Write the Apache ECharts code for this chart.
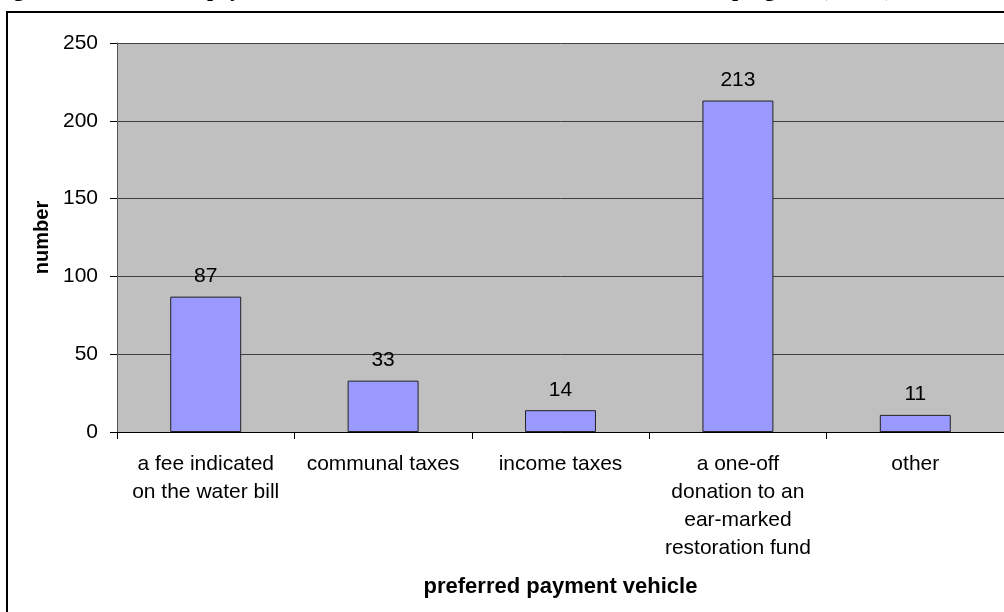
<!DOCTYPE html>
<html>
<head>
<meta charset="utf-8">
<script src="https://cdn.jsdelivr.net/npm/echarts@6/dist/echarts.min.js"></script>
<style>
  html, body { margin: 0; padding: 0; background: #fff; }
  #chart { width: 1004px; height: 612px; }
</style>
</head>
<body>
<div id="chart"></div>
<script>
// Preferred payment vehicle: number of respondents per option
const categories = [
  'a fee indicated\non the water bill',
  'communal taxes',
  'income taxes',
  'a one-off\ndonation to an\near-marked\nrestoration fund',
  'other'
];
const counts = [87, 33, 14, 213, 11];
const yTicks = { min: 0, max: 250, interval: 50 };
const xAxisTitle = 'preferred payment vehicle';
const yAxisTitle = 'number';
const captionParts = [
  { text: 'Figure 5: Preferred', x: -6 },
  { text: 'payment vehicle for the river restoration', x: 207 },
  { text: 'program (n=358)', x: 732 }
];

const chart = echarts.init(document.getElementById('chart'), null, { renderer: 'canvas' });

const sans = 'Liberation Sans, Arial, Helvetica, sans-serif';

const graphics = [
  // outer frame around the chart
  {
    type: 'rect',
    shape: { x: 7, y: 12, width: 1020, height: 640 },
    style: { fill: 'none', stroke: '#000', lineWidth: 2 },
    silent: true,
    z: 10
  }
];
// caption line above the frame (clipped by the page top)
captionParts.forEach(p => {
  graphics.push({
    type: 'text',
    x: p.x,
    y: -9.5,
    style: {
      text: p.text,
      font: 'bold 22px "Liberation Serif", "Times New Roman", serif',
      fill: '#000',
      textAlign: 'left',
      textVerticalAlign: 'middle'
    },
    silent: true
  });
});

chart.setOption({
  animation: false,
  backgroundColor: '#fff',
  grid: {
    left: 117,
    top: 43,
    right: 0,
    bottom: 180,
    show: true,
    backgroundColor: '#C0C0C0',
    borderWidth: 0
  },
  xAxis: {
    type: 'category',
    data: categories,
    boundaryGap: true,
    name: xAxisTitle,
    nameLocation: 'middle',
    nameGap: 144,
    nameTextStyle: { fontFamily: sans, fontSize: 22, fontWeight: 'bold', color: '#000' },
    axisLine: { show: true, lineStyle: { color: '#000', width: 1 } },
    axisTick: { show: true, length: 7, alignWithLabel: false, lineStyle: { color: '#000' } },
    axisLabel: {
      interval: 0,
      margin: 18,
      fontFamily: sans,
      fontSize: 21,
      lineHeight: 28,
      color: '#000',
      align: 'center'
    },
    splitLine: { show: false }
  },
  yAxis: {
    type: 'value',
    min: yTicks.min,
    max: yTicks.max,
    interval: yTicks.interval,
    name: yAxisTitle,
    nameLocation: 'middle',
    nameGap: 64,
    nameRotate: 90,
    nameTextStyle: { fontFamily: sans, fontSize: 20, fontWeight: 'bold', color: '#000' },
    axisLine: { show: true, lineStyle: { color: '#555', width: 1 } },
    axisTick: { show: true, length: 7, inside: false, lineStyle: { color: '#000' } },
    axisLabel: {
      margin: 19,
      fontFamily: sans,
      fontSize: 21,
      color: '#000'
    },
    splitLine: { show: true, lineStyle: { color: '#404040', width: 1 } }
  },
  series: [{
    type: 'bar',
    data: counts,
    barWidth: '40%',
    itemStyle: { color: '#9999FF', borderColor: '#222', borderWidth: 1 },
    label: {
      show: true,
      position: 'top',
      distance: 10,
      fontFamily: sans,
      fontSize: 21,
      color: '#000'
    }
  }],
  graphic: graphics
});
</script>
</body>
</html>
